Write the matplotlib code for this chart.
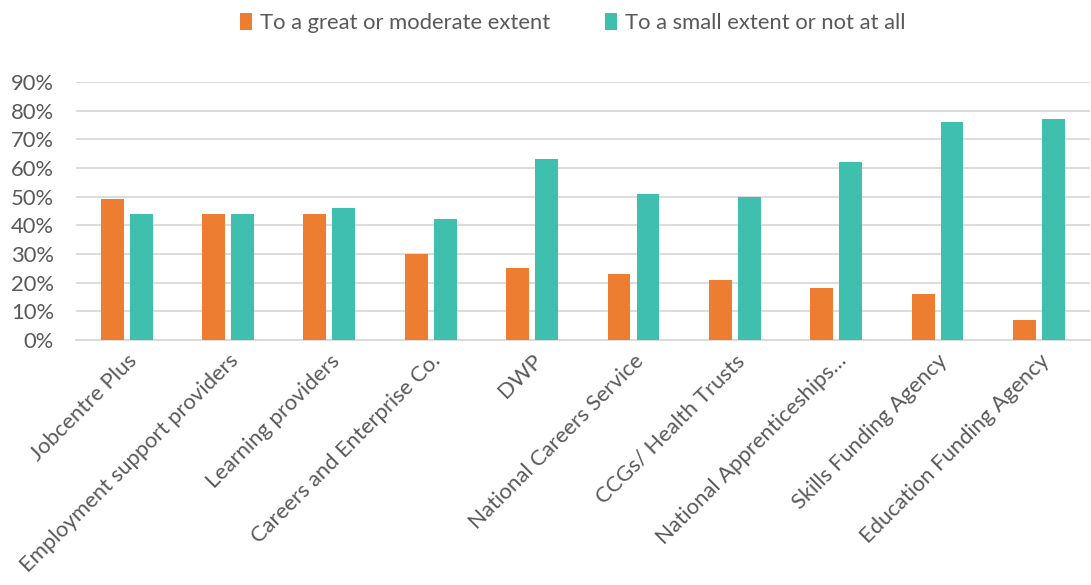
import matplotlib
matplotlib.use("Agg")
import matplotlib.pyplot as plt
import numpy as np
from matplotlib.transforms import ScaledTranslation

categories = ["Jobcentre Plus", "Employment support providers", "Learning providers",
              "Careers and Enterprise Co.", "DWP", "National Careers Service",
              "CCGs/ Health Trusts", "National Apprenticeships…", "Skills Funding Agency",
              "Education Funding Agency"]
great_moderate = [49, 44, 44, 30, 25, 23, 21, 18, 16, 7]
small_none = [44, 44, 46, 42, 63, 51, 50, 62, 76, 77]
series_names = ["To a great or moderate extent", "To a small extent or not at all"]
yticks = [0, 10, 20, 30, 40, 50, 60, 70, 80, 90]

plt.rcParams['font.family'] = ['Lato', 'DejaVu Sans']
txt = '#595959'
orange = '#ED7D31'
teal = '#3FBFAD'
fs = 15.8

fig = plt.figure(figsize=(10.91, 5.85), dpi=100)
ax = fig.add_axes([0.0697, 0.419, 0.929, 0.441])
x = np.arange(len(categories))
w = 0.226
off = 0.143
ax.bar(x - off, great_moderate, w, color=orange, label=series_names[0], zorder=3)
ax.bar(x + off, small_none, w, color=teal, label=series_names[1], zorder=3)
ax.set_xlim(-0.5, len(categories) - 0.5)
ax.set_ylim(0, 90)
ax.set_yticks(yticks)
ax.set_yticklabels([f"{v}%" for v in yticks], fontsize=fs, color=txt)
ax.yaxis.grid(True, color='#D9D9D9', linewidth=1.3, zorder=0)
for s in ['top', 'right', 'left']:
    ax.spines[s].set_visible(False)
ax.spines['bottom'].set_color('#D9D9D9')
ax.spines['bottom'].set_linewidth(1.3)
ax.tick_params(axis='both', length=0)
ax.tick_params(axis='y', pad=16)
ax.set_xticks(x)
ax.set_xticklabels(categories, rotation=45, ha='right', rotation_mode='anchor',
                   fontsize=fs, color=txt)
for lab in ax.get_xticklabels():
    lab.set_transform(lab.get_transform() + ScaledTranslation(0.0, -0.06, fig.dpi_scale_trans))
leg = fig.legend(loc='upper center', bbox_to_anchor=(0.525, 1.012), ncol=2, frameon=False,
                 fontsize=fs, handlelength=0.55, handleheight=0.85, handletextpad=0.35,
                 columnspacing=2.5)
for t in leg.get_texts():
    t.set_color(txt)
fig.savefig("out.png", dpi=100)
